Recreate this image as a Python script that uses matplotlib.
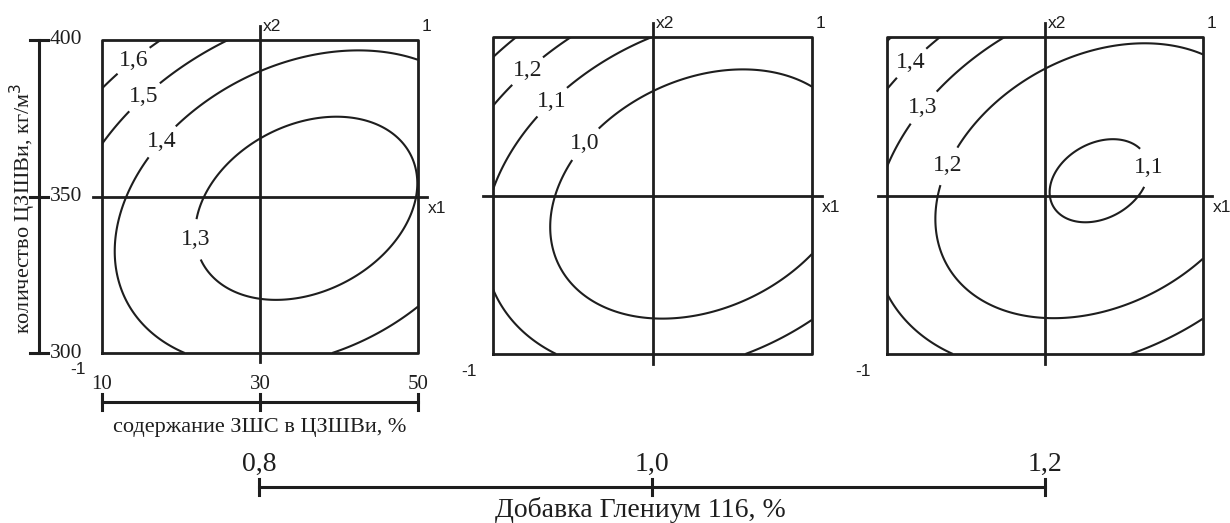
#   поверхности отклика по трём уровням добавки Глениум 116
#   x1 - содержание ЗШС, x2 - количество ЦЗШВи (кодированные уровни -1..1)

import numpy as np
import matplotlib.pyplot as plt

W, H = 1230, 523

#   коэффициенты регрессии: b0, b1, b2, b12, b11, b22
coef_08 = [1.2613, -0.0703, 0.0453, -0.0725, 0.1108, 0.1599]
coef_10 = [0.9167, -0.0689, 0.0193, -0.0713, 0.1108, 0.1636]
coef_12 = [1.1020, -0.0692, -0.0043, -0.0737, 0.1110, 0.1586]

#   уровни изолиний
levels_08 = [1.3, 1.4, 1.5, 1.6]
levels_10 = [1.0, 1.1, 1.2, 1.3]
levels_12 = [1.1, 1.2, 1.3, 1.4, 1.5]

#   подписанные изолинии и места подписей
labeled_08 = [1.6, 1.5, 1.4, 1.3]
labeled_10 = [1.2, 1.1, 1.0]
labeled_12 = [1.4, 1.3, 1.2, 1.1]
label_pos_08 = [(-0.77, 0.83), (-0.70, 0.60), (-0.62, 0.35), (-0.45, -0.28)]
label_pos_10 = [(-0.77, 0.77), (-0.63, 0.59), (-0.44, 0.34)]
label_pos_12 = [(-0.84, 0.83), (-0.75, 0.54), (-0.60, 0.18), (0.66, 0.18)]

#   натуральные шкалы
zshs_ticks = [10, 30, 50]
czshvi_ticks = [300, 350, 400]
glenium_ticks = [0.8, 1.0, 1.2]

black = '#1e1e1e'
serif = 'Liberation Serif'
sans = 'Liberation Sans'


def px_axes(fig, x0, y0, x1, y1):
    # оси по пиксельному прямоугольнику (y сверху вниз)
    ax = fig.add_axes([x0 / W, 1 - y1 / H, (x1 - x0) / W, (y1 - y0) / H])
    ax.set_axis_off()
    return ax


def comma(v):
    return ('%.1f' % v).replace('.', ',')


fig = plt.figure(figsize=(W / 100, H / 100), dpi=100)
fig.patch.set_facecolor('white')

g = np.linspace(-1, 1, 301)
X1, X2 = np.meshgrid(g, g)

panels = [
    ((102, 40, 418, 353), coef_08, levels_08, labeled_08, label_pos_08),
    ((493, 37, 812, 354), coef_10, levels_10, labeled_10, label_pos_10),
    ((887, 37, 1203, 354), coef_12, levels_12, labeled_12, label_pos_12),
]

for rect, b, lev, lab, pos in panels:
    ax = px_axes(fig, *rect)
    ax.set_xlim(-1, 1)
    ax.set_ylim(-1, 1)
    Z = b[0] + b[1] * X1 + b[2] * X2 + b[3] * X1 * X2 + b[4] * X1 ** 2 + b[5] * X2 ** 2
    cs = ax.contour(X1, X2, Z, levels=lev, colors=black, linewidths=1.5)
    txt = ax.clabel(cs, levels=lab, fmt=comma, inline=True, inline_spacing=2,
                    manual=pos, fontsize=17)
    for t in txt:
        t.set_rotation(0)
        t.set_fontfamily(serif)
        t.set_color(black)
    # рамка и координатные оси
    ax.plot([-1, 1, 1, -1, -1], [-1, -1, 1, 1, -1], color=black, lw=2, clip_on=False)
    ax.plot([-1.06, 1.06], [0, 0], color=black, lw=2, clip_on=False)
    ax.plot([0, 0], [-1.06, 1.09], color=black, lw=2, clip_on=False)
    ax.text(0.02, 1.04, 'x2', fontsize=12.5, family=sans, ha='left', va='bottom', color=black)
    ax.text(1.02, 1.04, '1', fontsize=12.5, family=sans, ha='left', va='bottom', color=black)
    ax.text(1.06, -0.03, 'x1', fontsize=12.5, family=sans, ha='left', va='top', color=black)
    ax.text(-1.1, -1.06, '-1', fontsize=12.5, family=sans, ha='right', va='top', color=black)

#   шкала ЦЗШВи, кг/м3
ay = px_axes(fig, 30, 40, 48, 353)
ay.set_xlim(-1, 1)
ay.set_ylim(czshvi_ticks[0], czshvi_ticks[-1])
ay.plot([0, 0], [czshvi_ticks[0], czshvi_ticks[-1]], color=black, lw=2.2, clip_on=False)
for v in czshvi_ticks:
    ay.plot([-1, 1], [v, v], color=black, lw=2.2, clip_on=False)
    ay.text(1.2, v, str(v), fontsize=15.5, family=serif, ha='left', va='center', color=black)
fig.text(23 / W, 1 - 208 / H, 'количество ЦЗШВи, кг/м$^3$', rotation=90, fontsize=16,
         family=serif, ha='center', va='center', color=black)

#   шкала ЗШС, %
ax_z = px_axes(fig, 102, 394, 418, 410)
ax_z.set_xlim(zshs_ticks[0], zshs_ticks[-1])
ax_z.set_ylim(-1, 1)
ax_z.plot([zshs_ticks[0], zshs_ticks[-1]], [0, 0], color=black, lw=2.2, clip_on=False)
for v in zshs_ticks:
    ax_z.plot([v, v], [-1, 1], color=black, lw=2.2, clip_on=False)
    ax_z.text(v, 1.6, str(v), fontsize=15, family=serif, ha='center', va='baseline', color=black)
ax_z.text(30, -3.2, 'содержание ЗШС в ЦЗШВи, %', fontsize=16, family=serif,
          ha='center', va='center', color=black)

#   шкала добавки Глениум 116, %
ax_g = px_axes(fig, 259, 479, 1045, 495)
ax_g.set_xlim(glenium_ticks[0], glenium_ticks[-1])
ax_g.set_ylim(-1, 1)
ax_g.plot([glenium_ticks[0], glenium_ticks[-1]], [0, 0], color=black, lw=2.2, clip_on=False)
for v in glenium_ticks:
    ax_g.plot([v, v], [-1, 1], color=black, lw=2.2, clip_on=False)
    ax_g.text(v, 2.0, comma(v), fontsize=20, family=serif, ha='center', va='baseline', color=black)
ax_g.text(0.994, -2.9, 'Добавка Глениум 116, %', fontsize=20, family=serif,
          ha='center', va='center', color=black)

fig.savefig('out.png', dpi=100)
